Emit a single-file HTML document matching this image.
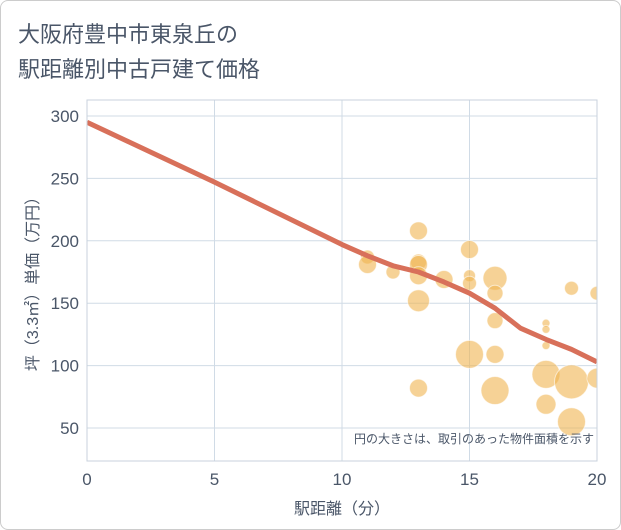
<!DOCTYPE html>
<html><head><meta charset="utf-8"><style>
body{margin:0;background:#fff;}
#wrap{position:relative;width:619px;height:528px;border:1px solid #ccc;border-radius:8px;overflow:hidden;background:#fff;font-family:"Liberation Sans","Noto Sans CJK JP",sans-serif;}
</style></head><body>
<div id="wrap">
<svg id="c" width="621" height="530" style="position:absolute;left:-1px;top:-1px">
<defs><clipPath id="pc"><rect x="87" y="100" width="510" height="361"/></clipPath></defs>
<text x="18" y="42" font-size="22" fill="#4a5668" font-family="Liberation Sans,Noto Sans CJK JP,sans-serif">大阪府豊中市東泉丘の</text>
<text x="18" y="77" font-size="22" fill="#4a5668" font-family="Liberation Sans,Noto Sans CJK JP,sans-serif">駅距離別中古戸建て価格</text>
<g id="grid"></g><g id="bubbles" clip-path="url(#pc)"></g><g id="line" clip-path="url(#pc)"></g><g id="axes"></g>
<text x="594" y="443" font-size="12" fill="#4a5668" text-anchor="end" font-family="Liberation Sans,Noto Sans CJK JP,sans-serif">円の大きさは、取引のあった物件面積を示す</text>
<text x="342" y="514" font-size="16" fill="#4a5668" text-anchor="middle" font-family="Liberation Sans,Noto Sans CJK JP,sans-serif">駅距離（分）</text>
<text transform="translate(38,280) rotate(-90)" font-size="16" fill="#4a5668" text-anchor="middle" font-family="Liberation Sans,Noto Sans CJK JP,sans-serif">坪（3.3㎡）単価（万円）</text>
</svg></div>
<script>
const xTicks=[0,5,10,15,20];
const yTicks=[50,100,150,200,250,300];
const bx=[13,11,11,12,13,13,13,13,14,15,15,15,16,16,16,16,16,15,13,18,18,18,18,18,19,19,19,20,20];
const by=[208,187,181,175,183,181,172,152,169,193,172,166,170,158,136,109,80,109,82,134,129,116,93,69,162,87,55,158,90];
const br=[9,7,9,7,8,9,9,11,9,9,6,7,12,8,8,9,14,14,9,4,4,4,14,10,7,17,14,7,10];
const lx=[0,5,10,11,12,13,14,15,16,17,18,19,20];
const ly=[295,247,197,188,180,175,167,158,146,130,121,113,103];
const L=87,R=597,T=100,B=461;
const X=v=>L+(R-L)*v/20;
const Y=v=>116+(300-v)*1.248;
const NS="http://www.w3.org/2000/svg";
function mk(t,a,p){const e=document.createElementNS(NS,t);for(const k in a)e.setAttribute(k,a[k]);p.appendChild(e);return e;}
const g=document.getElementById('grid'),ax=document.getElementById('axes');
xTicks.forEach(v=>{
 const l=mk('line',{x1:X(v),x2:X(v),y1:T,y2:B,stroke:'#d0dbe6','stroke-width':1},g);
 
 
 const t=mk('text',{x:X(v),y:B+24,'text-anchor':'middle','font-size':17,fill:'#4a5668'},ax);t.textContent=v;
 
 
});
yTicks.forEach(v=>{
 const l=mk('line',{x1:L,x2:R,y1:Y(v),y2:Y(v),stroke:'#d0dbe6','stroke-width':1},g);
 
 
 const t=mk('text',{x:L-8,y:Y(v)+6,'text-anchor':'end','font-size':17,fill:'#4a5668'},ax);t.textContent=v;
 
 
});
const fr=mk('rect',{x:L,y:T,width:R-L,height:B-T,fill:'none',stroke:'#c8d2dc'},ax);


const bg=document.getElementById('bubbles');
bx.forEach((v,i)=>{
 const c=mk('circle',{cx:X(v),cy:Y(by[i]),r:br[i],fill:'rgba(240,180,80,0.6)',stroke:'rgba(255,255,255,0.6)'},bg);
 
 
});
const p=mk('polyline',{points:lx.map((v,i)=>X(v)+','+Y(ly[i])).join(' '),fill:'none',stroke:'#d8705a','stroke-width':5,'stroke-linejoin':'round'},document.getElementById('line'));


</script>
</body></html>
